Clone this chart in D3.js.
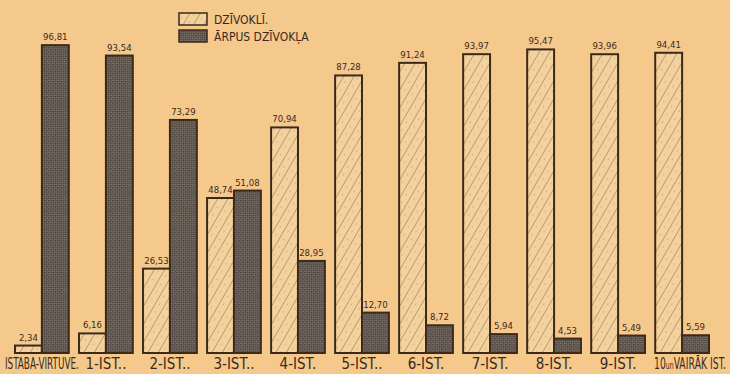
<!DOCTYPE html>
<html>
<head>
<meta charset="utf-8">
<script src="https://cdn.jsdelivr.net/npm/d3@7"></script>
<style>
  html, body { margin: 0; padding: 0; background: #f5c88c; }
  svg { display: block; }
</style>
</head>
<body>
<svg id="chart" width="730" height="374"></svg>
<script>
// Categories (number of rooms) and shares of households, per cent
const categories = ["ISTABA-VIRTUVE.", "1-IST..", "2-IST..", "3-IST..", "4-IST.", "5-IST..",
                    "6-IST.", "7-IST.", "8-IST.", "9-IST.", "10 un VAIRĀK IST."];
const inFlat      = [2.34, 6.16, 26.53, 48.74, 70.94, 87.28, 91.24, 93.97, 95.47, 93.96, 94.41];
const outsideFlat = [96.81, 93.54, 73.29, 51.08, 28.95, 12.70, 8.72, 5.94, 4.53, 5.49, 5.59];
const seriesNames = ["DZĪVOKLĪ.", "ĀRPUS DZĪVOKĻA"];

const W = 730, H = 374;
const ink = "#3b2a1c";
const svg = d3.select("#chart");

// patterns: light hatched and dark stippled fills
const defs = svg.append("defs");
const hatch = defs.append("pattern").attr("id", "hatch")
  .attr("patternUnits", "userSpaceOnUse").attr("width", 9).attr("height", 9)
  .attr("patternTransform", "rotate(30)");
hatch.append("rect").attr("width", 9).attr("height", 9).attr("fill", "#f4d29e");
hatch.append("line").attr("x1", 0).attr("y1", 0).attr("x2", 0).attr("y2", 9)
  .attr("stroke", "#8c6a48").attr("stroke-width", 1);
hatch.append("circle").attr("cx", 4.5).attr("cy", 3).attr("r", 0.5).attr("fill", "#a07c58");

const stip = defs.append("pattern").attr("id", "stipple")
  .attr("patternUnits", "userSpaceOnUse").attr("width", 3).attr("height", 3)
  .attr("patternTransform", "rotate(45)");
stip.append("rect").attr("width", 3).attr("height", 3).attr("fill", "#8a8076");
stip.append("rect").attr("width", 1.6).attr("height", 1.6).attr("fill", "#3a332d");
stip.append("rect").attr("x", 1.5).attr("y", 1.5).attr("width", 1.5).attr("height", 1.5).attr("fill", "#463e37");

const fills = ["url(#hatch)", "url(#stipple)"];

const x = d3.scaleBand().domain(categories).range([15, 709]).paddingInner(0.16).paddingOuter(0);
const xs = d3.scaleBand().domain([0, 1]).range([0, x.bandwidth()]);
const y = d3.scaleLinear().domain([0, 100]).range([353, 35]);

const rows = categories.map((c, i) => ({ c, vals: [inFlat[i], outsideFlat[i]] }));

const groups = svg.append("g").selectAll("g").data(rows).join("g")
  .attr("transform", d => `translate(${x(d.c)},0)`);

groups.selectAll("rect").data(d => d.vals.map((v, k) => ({ v, k }))).join("rect")
  .attr("x", d => xs(d.k))
  .attr("y", d => y(d.v))
  .attr("width", xs.bandwidth())
  .attr("height", d => y(0) - y(d.v))
  .attr("fill", d => fills[d.k])
  .attr("stroke", ink).attr("stroke-width", 2);

const fmt = v => d3.format(".2f")(v).replace(".", ",");
groups.selectAll("text.val").data(d => d.vals.map((v, k) => ({ v, k }))).join("text")
  .attr("class", "val")
  .attr("x", d => xs(d.k) + xs.bandwidth() / 2)
  .attr("y", d => y(d.v) - 5)
  .attr("text-anchor", "middle")
  .attr("font-family", "'DejaVu Sans Condensed', 'DejaVu Sans', sans-serif")
  .attr("font-size", 9.5)
  .attr("fill", ink)
  .text(d => fmt(d.v));

// category labels under each pair of bars, squeezed to fit where needed
const maxWidth = { "ISTABA-VIRTUVE.": 74, "10 un VAIRĀK IST.": 72 };
const labelG = svg.append("g").selectAll("g").data(categories).join("g");
labelG.each(function (d) {
  const g = d3.select(this);
  const t = g.append("text")
    .attr("font-family", "'Liberation Sans Narrow', 'DejaVu Sans Condensed', sans-serif")
    .attr("font-size", 15)
    .attr("fill", ink);
  if (d.startsWith("10 un")) {
    t.append("tspan").text("10");
    t.append("tspan").attr("font-size", 10).text("un");
    t.append("tspan").text("VAIRĀK IST.");
  } else {
    t.text(d);
  }
  const w = t.node().getComputedTextLength();
  const target = maxWidth[d] || w;
  const sx = Math.min(1, target / w);
  let cx = x(d) + x.bandwidth() / 2;
  if (d.startsWith("10 un")) cx = Math.min(cx + 8, W - 2 - target / 2);
  g.attr("transform", `translate(${cx - (w * sx) / 2},369) scale(${sx},1)`);
});

// legend
const legend = svg.append("g").attr("transform", "translate(179,13)");
seriesNames.forEach((n, k) => {
  const g = legend.append("g").attr("transform", `translate(0,${k * 17})`);
  g.append("rect").attr("width", 28).attr("height", 12)
    .attr("fill", fills[k]).attr("stroke", ink).attr("stroke-width", 1.5);
  g.append("text").attr("x", 35).attr("y", 11)
    .attr("font-family", "'DejaVu Sans Condensed', 'DejaVu Sans', sans-serif")
    .attr("font-size", 12).attr("fill", ink).text(n);
});
</script>
</body>
</html>
